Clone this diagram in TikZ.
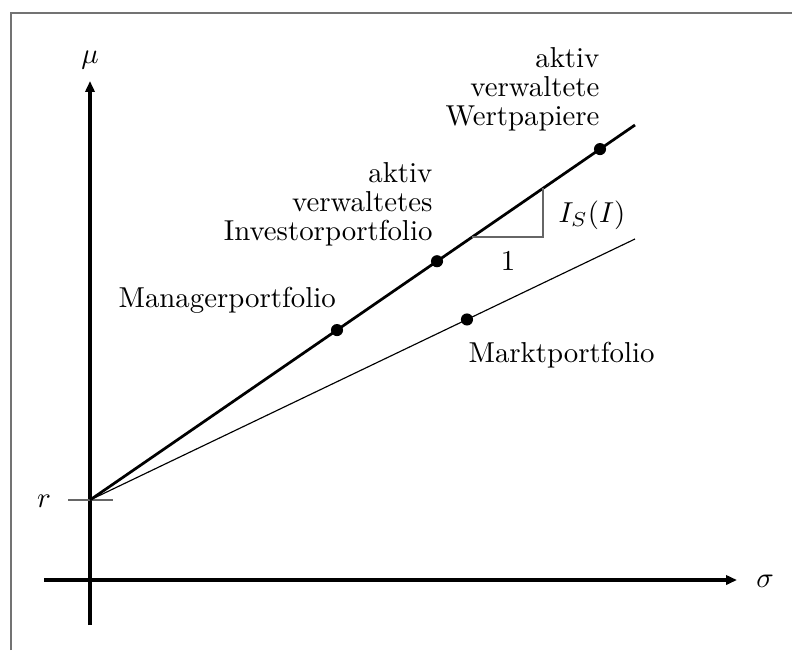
\documentclass[tikz,border=0pt]{standalone}
\usetikzlibrary{arrows.meta,calc}
\begin{document}
\begin{tikzpicture}[x=0.347pt,y=-0.347pt,
  axis/.style={line width=1.39pt,-{Triangle[length=3.8pt,width=3.2pt]}},
  thickline/.style={line width=0.95pt},
  thinline/.style={line width=0.4pt},
  grayline/.style={line width=0.4pt,black!60},
  dot/.style={circle,fill=black,inner sep=0pt,minimum size=4.2pt},
  lbl/.style={inner sep=0pt,font=\fontsize{10pt}{10pt}\selectfont},
  mlbl/.style={lbl,align=right,anchor=base east}]
\useasboundingbox (0,0) rectangle (792,650);
% frame
\coordinate (f1) at (11,650);
\coordinate (f2) at (11,13);
\coordinate (f3) at (792,13);
\draw[black!55,line width=0.5pt] (f1) -- (f2) -- (f3);
% axes
\coordinate (xs) at (44,580);
\coordinate (xe) at (737,580);
\coordinate (ys) at (90,625);
\coordinate (ye) at (90,81);
\draw[axis] (xs) -- (xe);
\draw[axis] (ys) -- (ye);
\node[lbl,anchor=base] (sigma) at (765,587) {$\sigma$};
\node[lbl,anchor=base] (mu) at (90,63) {$\mu$};
% r
\coordinate (R) at (90,500);
\coordinate (rt1) at (68,500);
\coordinate (rt2) at (113,500);
\draw[grayline] (rt1) -- (rt2);
\node[lbl,anchor=base] (r) at (44,507) {$r$};
% lines
\coordinate (E1) at (635,125);
\coordinate (E2) at (635,239);
\draw[thickline] (R) -- (E1);
\draw[thinline] (R) -- (E2);
% dots
\node[dot] (wp) at ($(R)!0.9358!(E1)$) {};
\node[dot] (ip) at ($(R)!0.6367!(E1)$) {};
\node[dot] (mp) at ($(R)!0.4532!(E1)$) {};
\node[dot] (mk) at ($(R)!0.6917!(E2)$) {};
% slope triangle
\coordinate (T1) at ($(R)!0.7013!(E1)$);
\coordinate (T2) at ($(R)!0.8312!(E1)$);
\draw[grayline] (T1) -| (T2);
\node[lbl,anchor=base west] (is) at (558,222) {$I_S(I)$};
\node[lbl,anchor=base] (one) at (508,270) {$1$};
% labels
\node[mlbl] (lwp) at (600,125) {aktiv\\verwaltete\\Wertpapiere};
\node[mlbl] (lip) at (433,240) {aktiv\\verwaltetes\\Investorportfolio};
\node[lbl,anchor=base west] (lmp) at (118,307) {Managerportfolio};
\node[lbl,anchor=base west] (lmk) at (468,362) {Marktportfolio};
\end{tikzpicture}
\end{document}
